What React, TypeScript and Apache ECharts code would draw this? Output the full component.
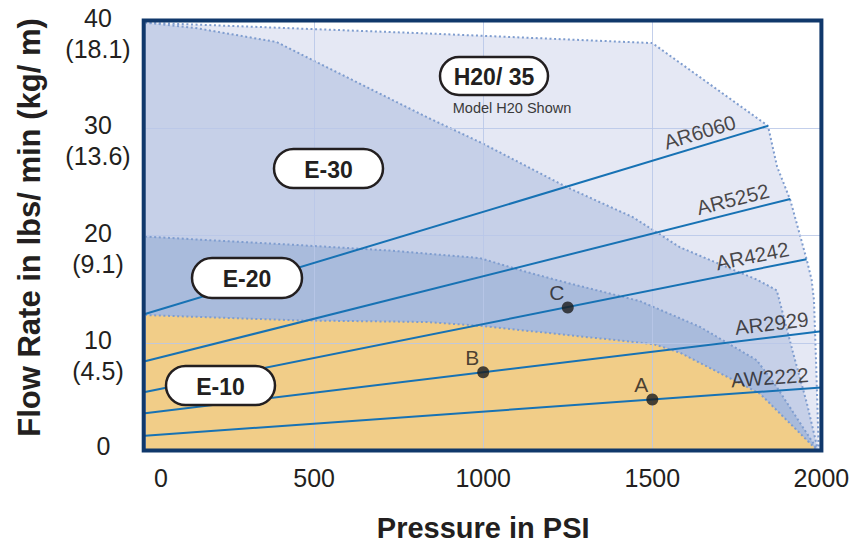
import React, { useEffect, useRef } from "react";
import * as echarts from "echarts";

// ---- data ----
const xTickValues = [0, 500, 1000, 1500, 2000];
const yTickValues = [0, 10, 20, 30, 40];
const yKgLabels = ["", "(4.5)", "(9.1)", "(13.6)", "(18.1)"];

// region outlines [psi, lbs/min]
const h20Edge = [[0, 39.8], [831, 38.8], [1500, 37.9], [1842, 30.2], [1869, 26.4], [1908, 23.3], [1957, 17.7], [1971, 15.9], [1978, 14.0], [1985, 7.5], [1992, 0]];
const e30Edge = [[0, 39.8], [150, 39.3], [389, 38.0], [503, 36.2], [834, 31.0], [996, 28.6], [1247, 24.5], [1443, 21.7], [1582, 18.9], [1740, 16.8], [1809, 15.9], [1868, 14.9], [1917, 9.0], [1957, 4.4], [1990, 0]];
const e20Edge = [[0, 19.9], [458, 19.1], [724, 18.6], [990, 17.9], [1129, 16.6], [1248, 15.6], [1463, 13.9], [1641, 11.5], [1809, 8.4], [1868, 5.9], [1990, 0]];
const e10Edge = [[0, 12.6], [458, 12.1], [724, 12.0], [834, 11.95], [990, 11.6], [1504, 9.9], [1582, 9.1], [1818, 5.3], [1988, 0]];

const regionNames = ["H20/ 35", "E-30", "E-20", "E-10"];

// pump lines
const lineNames = ["AR6060", "AR5252", "AR4242", "AR2929", "AW2222"];
const lineStartFlow = [12.7, 8.3, 5.45, 3.46, 1.37];
const lineEndPsi = [1842, 1908, 1956, 2000, 2000];
const lineEndFlow = [30.2, 23.4, 17.8, 11.1, 5.86];

// operating points
const pointNames = ["A", "B", "C"];
const pointPsi = [1500, 1000, 1250];
const pointFlow = [4.74, 7.28, 13.3];

// ---- styles / layout ----
const FONT = "'Liberation Sans', Arial, Helvetica, sans-serif";
const TXT = "#231f20";
const GRID = { left: 145, right: 32.6, top: 20.5, bottom: 94.5 };
const W = 854;
const H = 545;
const regionColors = ["#e5e8f4", "#c6d0e8", "#a9bbdc", "#f1cd88"];
const edgeColor = "#7f9dcf";
const pumpColor = "#1772b4";
const labelPsi = [1652, 1748, 1804, 1858, 1850];
const pills = [
  { x: 440, y: 57, w: 108, h: 38 },
  { x: 274, y: 149, w: 109, h: 39 },
  { x: 192, y: 258, w: 110, h: 40 },
  { x: 166, y: 366, w: 109, h: 39 },
];

function flowAt(i: number, psi: number) {
  return lineStartFlow[i] + ((lineEndFlow[i] - lineStartFlow[i]) * psi) / lineEndPsi[i];
}

export default function App() {
  const ref = useRef<HTMLDivElement>(null);

  useEffect(() => {
    if (!ref.current) return;
    const chart = echarts.init(ref.current, null, { renderer: "svg" });

    const edges = [h20Edge, e30Edge, e20Edge, e10Edge];
    const regionSeries = edges.map((d, i) => ({
      type: "line",
      name: regionNames[i],
      data: d,
      symbol: "none",
      z: 1,
      silent: true,
      lineStyle: { color: edgeColor, width: 2, type: [2, 2.6] },
      areaStyle: { color: regionColors[i], opacity: 1 },
    }));

    const pumpSeries = lineNames.map((n, i) => ({
      type: "line",
      name: n,
      data: [
        [0, lineStartFlow[i]],
        [lineEndPsi[i], lineEndFlow[i]],
      ],
      symbol: "none",
      z: 4,
      silent: true,
      lineStyle: { color: pumpColor, width: 2 },
    }));

    const pillElements: any[] = [];
    pills.forEach((p, i) => {
      pillElements.push({
        type: "rect",
        z: 20,
        silent: true,
        shape: { x: p.x, y: p.y, width: p.w, height: p.h, r: p.h / 2 },
        style: { fill: "#ffffff", stroke: TXT, lineWidth: 2.5 },
      });
      pillElements.push({
        type: "text",
        z: 21,
        silent: true,
        x: p.x + p.w / 2,
        y: p.y + p.h / 2 + 1,
        style: {
          text: regionNames[i],
          font: "bold 23px " + FONT,
          fill: TXT,
          align: "center",
          verticalAlign: "middle",
          textAlign: "center",
          textVerticalAlign: "middle",
        },
      });
    });

    const option: any = {
      animation: false,
      backgroundColor: "#ffffff",
      grid: { ...GRID, containLabel: false, outerBoundsMode: "none" },
      xAxis: {
        type: "value",
        min: 0,
        max: 2000,
        interval: 500,
        z: 3,
        axisLine: { show: false },
        axisTick: { show: false },
        splitLine: { show: true, lineStyle: { color: "rgba(184,199,232,0.85)", width: 1 } },
        axisLabel: {
          margin: 15,
          fontSize: 25,
          lineHeight: 25,
          color: TXT,
          fontFamily: FONT,
          formatter: (v: number) => (v === xTickValues[0] ? "{z|" + v + "}" : String(v)),
          rich: { z: { fontSize: 25, lineHeight: 25, color: TXT, fontFamily: FONT, padding: [0, 0, 0, 32] } },
        },
        name: "Pressure in PSI",
        nameLocation: "middle",
        nameGap: 63,
        nameTextStyle: { fontSize: 29, fontWeight: "bold", color: TXT, fontFamily: FONT },
      },
      yAxis: {
        type: "value",
        min: 0,
        max: 40,
        interval: 10,
        z: 3,
        axisLine: { show: false },
        axisTick: { show: false },
        splitLine: { show: true, lineStyle: { color: "rgba(184,199,232,0.85)", width: 1 } },
        axisLabel: {
          margin: 47,
          align: "center",
          color: TXT,
          fontFamily: FONT,
          fontSize: 25,
          formatter: (v: number) => {
            const idx = yTickValues.indexOf(v);
            const kg = idx >= 0 ? yKgLabels[idx] : "";
            if (!kg) return "{z|" + v + "}";
            return "{s| }\n{a|" + v + "}\n{b|" + kg + "}";
          },
          rich: {
            s: { fontSize: 25, lineHeight: 25, fontFamily: FONT },
            a: { fontSize: 25, lineHeight: 31, color: TXT, fontFamily: FONT },
            b: { fontSize: 25, lineHeight: 31, color: TXT, fontFamily: FONT },
            z: { fontSize: 25, lineHeight: 31, color: TXT, fontFamily: FONT, padding: [0, 0, 10, 11] },
          },
        },
        name: "Flow Rate in lbs/ min (kg/ m)",
        nameLocation: "middle",
        nameRotate: 90,
        nameGap: 100,
        nameTextStyle: { fontSize: 31, fontWeight: "bold", color: TXT, fontFamily: FONT, padding: [0, 0, 0, 16] },
      },
      series: [
        ...regionSeries,
        ...pumpSeries,
        {
          id: "lineLabels",
          type: "scatter",
          symbolSize: 0,
          z: 5,
          silent: true,
          data: lineNames.map((n, i) => ({ name: n, value: [labelPsi[i], flowAt(i, labelPsi[i])] })),
          label: {
            show: true,
            position: "inside",
            offset: [0, -14],
            formatter: "{b}",
            fontSize: 20.5,
            color: "#1d1a1a",
            fontFamily: FONT,
          },
        },
        {
          type: "scatter",
          symbol: "circle",
          symbolSize: 12,
          z: 6,
          silent: true,
          itemStyle: { color: "#1b1b1b" },
          data: pointNames.map((n, i) => ({ name: n, value: [pointPsi[i], pointFlow[i]] })),
          label: {
            show: true,
            position: "inside",
            offset: [-11, -15],
            formatter: "{b}",
            fontSize: 21,
            color: "#1d1a1a",
            fontFamily: FONT,
          },
        },
      ],
      graphic: [
        ...pillElements,
        {
          type: "text",
          x: 512,
          y: 108,
          z: 20,
          silent: true,
          style: {
            text: "Model H20 Shown",
            font: "14.5px " + FONT,
            fill: "#3a3a3a",
            align: "center",
            verticalAlign: "middle",
            textAlign: "center",
            textVerticalAlign: "middle",
          },
        },
        {
          type: "rect",
          z: 30,
          silent: true,
          shape: {
            x: GRID.left - 1.3,
            y: GRID.top,
            width: W - GRID.right - GRID.left + 1.3,
            height: H - GRID.top - GRID.bottom,
          },
          style: { fill: "none", stroke: "#10386b", lineWidth: 4 },
        },
      ],
    };

    chart.setOption(option);

    // rotate the pump labels along their lines (pixel slope)
    const rotations = lineNames.map((_, i) => {
      const p0 = chart.convertToPixel({ gridIndex: 0 }, [0, lineStartFlow[i]]) as number[];
      const p1 = chart.convertToPixel({ gridIndex: 0 }, [lineEndPsi[i], lineEndFlow[i]]) as number[];
      return (Math.atan2(p0[1] - p1[1], p1[0] - p0[0]) * 180) / Math.PI;
    });
    chart.setOption({
      series: [
        {
          id: "lineLabels",
          data: lineNames.map((n, i) => ({
            name: n,
            value: [labelPsi[i], flowAt(i, labelPsi[i])],
            label: { rotate: rotations[i] },
          })),
        },
      ],
    });

    return () => chart.dispose();
  }, []);

  return (
    <div
      ref={ref}
      style={{ position: "fixed", left: 0, top: 0, width: W, height: H, background: "#fff" }}
    />
  );
}
